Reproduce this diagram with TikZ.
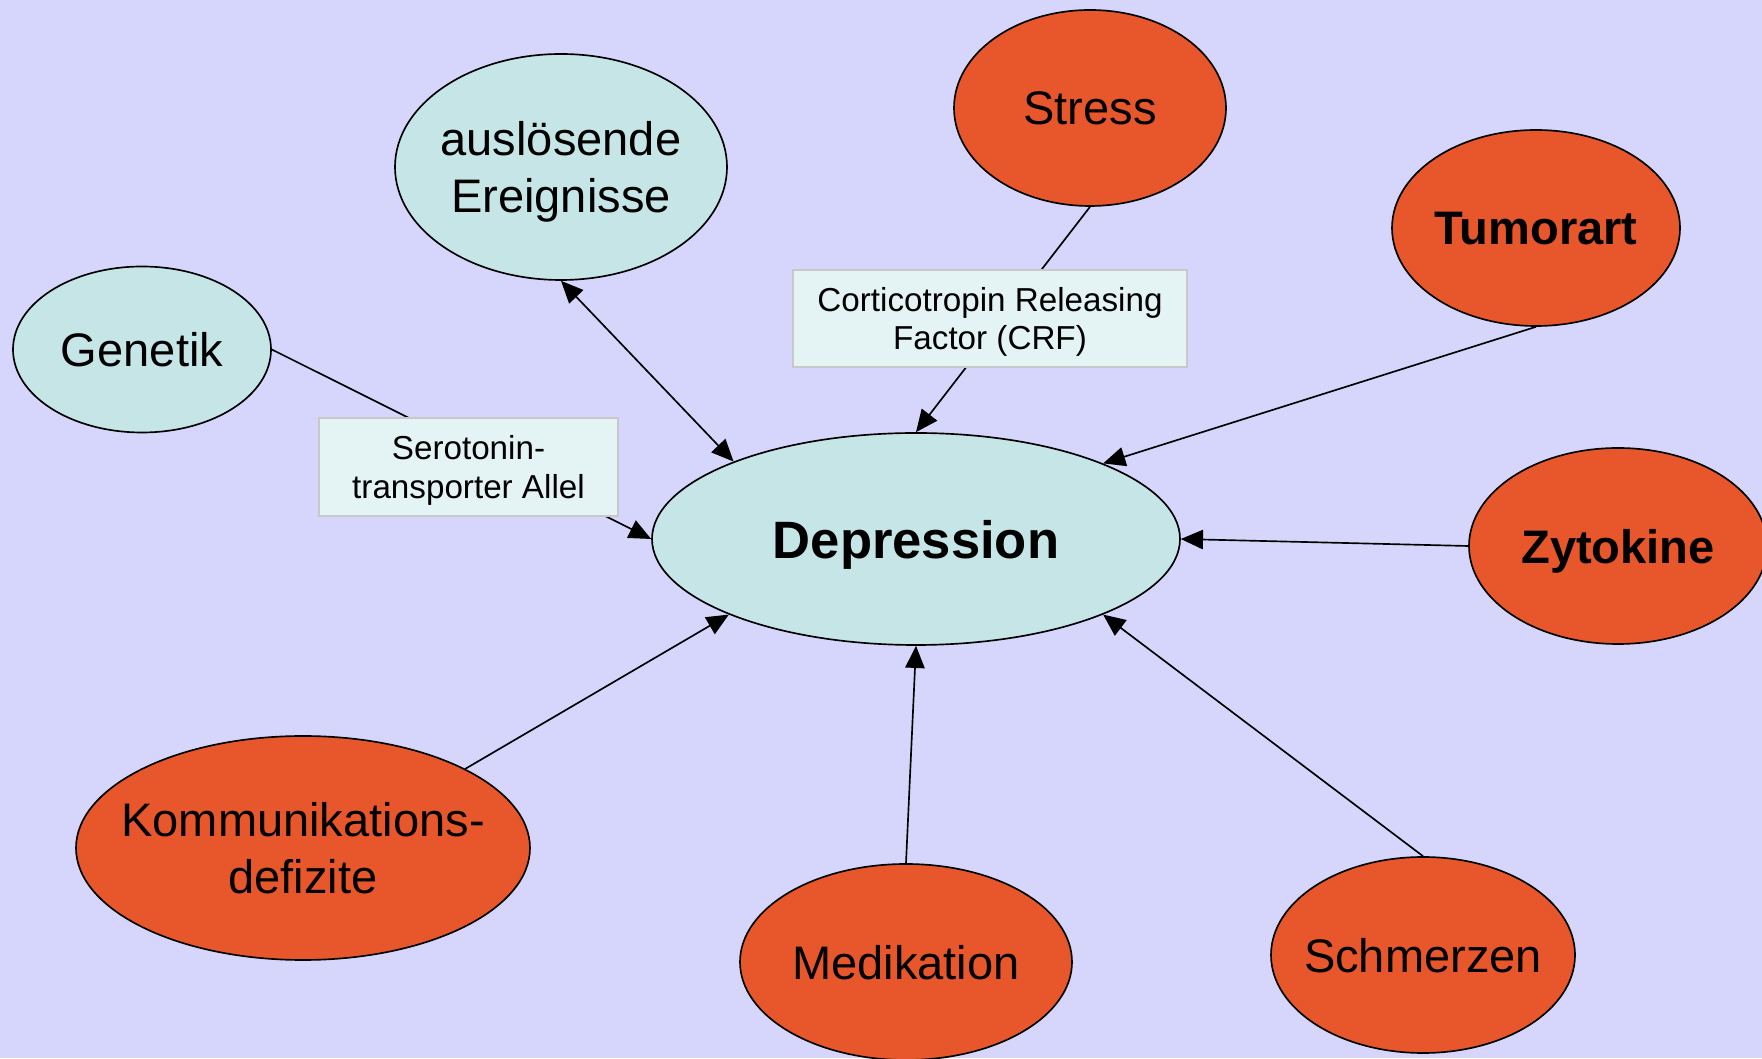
\documentclass[tikz,border=0pt]{standalone}
\usepackage{fontspec}
\setmainfont{Liberation Sans}
\usetikzlibrary{shapes.geometric,arrows.meta}
\definecolor{bglav}{HTML}{D6D6FC}
\definecolor{calmfill}{HTML}{C5E5E6}
\definecolor{hotfill}{HTML}{E8572B}
\definecolor{lblfill}{HTML}{E4F4F4}
\definecolor{lblline}{HTML}{C8C8C8}
\begin{document}
\begin{tikzpicture}[x=1in,y=1in,>={Triangle[length=16pt,width=14pt]},line width=1.2pt,
  every node/.style={font=\fontsize{34}{41}\selectfont,align=center,text depth=0pt},
  oval/.style={draw,ellipse,inner xsep=-0.3in},
  calm/.style={oval,fill=calmfill},
  hot/.style={oval,fill=hotfill},
  edgelbl/.style={draw=lblline,fill=lblfill,font=\fontsize{24}{27.5}\selectfont,minimum width=2.99in,minimum height=0.98in}]
\clip (0,0) rectangle (17.62,10.58);
\fill[bglav] (0,0) rectangle (17.62,10.58);
\node[calm,minimum width=5.28in,minimum height=2.12in,font=\fontsize{38}{46}\selectfont\bfseries] (dep) at (9.16,5.19) {Depression};
\node[calm,minimum width=3.32in,minimum height=2.26in] (ausl) at (5.61,8.91) {auslösende\\Ereignisse};
\node[calm,minimum width=2.58in,minimum height=1.66in] (gen) at (1.42,7.085) {Genetik};
\node[hot,minimum width=2.72in,minimum height=1.96in] (stress) at (10.90,9.50) {Stress};
\node[hot,minimum width=2.88in,minimum height=1.96in,font=\fontsize{34}{41}\selectfont\bfseries] (tumor) at (15.36,8.30) {Tumorart};
\node[hot,minimum width=2.98in,minimum height=1.96in,font=\fontsize{34}{41}\selectfont\bfseries] (zyto) at (16.18,5.12) {Zytokine};
\node[hot,minimum width=4.54in,minimum height=2.24in] (komm) at (3.03,2.10) {Kommunikations-\\defizite};
\node[hot,minimum width=3.32in,minimum height=1.96in] (medi) at (9.06,0.96) {Medikation};
\node[hot,minimum width=3.04in,minimum height=1.96in] (schm) at (14.23,1.03) {Schmerzen};
\draw[->] (gen.east) -- (dep.west);
\draw[<->] (ausl.south) -- (dep.157);
\draw[->] (stress.south) -- (dep.north);
\draw[->] (tumor.south) -- (dep.22);
\draw[->] (zyto.west) -- (dep.east);
\draw[->] (schm.north) -- (dep.-22);
\draw[->] (medi.north) -- (dep.south);
\draw[->] (komm.26) -- (dep.202);
\node[edgelbl] (sero) at (4.685,5.91) {Serotonin-\\transporter Allel};
\node[edgelbl,minimum width=3.94in,minimum height=0.97in] (crf) at (9.90,7.395) {Corticotropin Releasing\\Factor (CRF)};
\end{tikzpicture}
\end{document}
